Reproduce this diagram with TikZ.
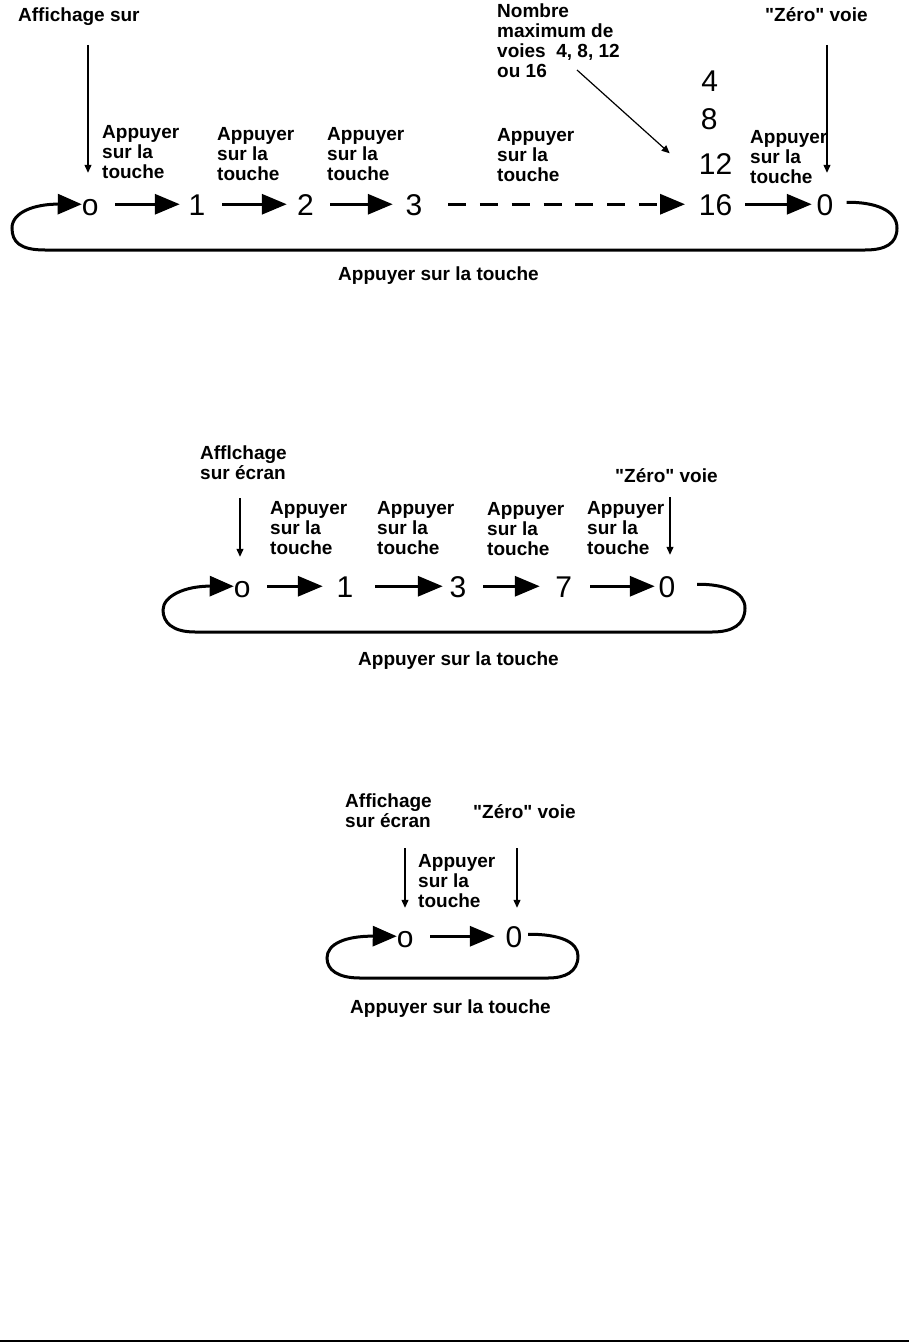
\documentclass[tikz,border=0pt]{standalone}
\usepackage{fontspec}
\setmainfont{Liberation Sans}
\usetikzlibrary{arrows.meta}
\newcommand\lblfont{\fontsize{19}{20}\selectfont\bfseries}
\newcommand\numfont{\fontsize{30}{30}\selectfont}
\newcommand\zerovoie{\textquotedbl Zéro\textquotedbl{} voie}
\begin{document}
\begin{tikzpicture}[x=1pt,y=-1pt,
  lbl/.style={font=\lblfont, inner sep=0pt, align=left},
  num/.style={font=\numfont, inner sep=0pt, text height=21.5pt, text depth=0pt, anchor=base},
  bigarrow/.style={line width=3.3pt, -{Triangle[length=25pt,width=20pt]}},
  thinarrow/.style={line width=1.2pt, -{Triangle[length=8pt,width=7pt]}},
  loopline/.style={line width=3pt, -{Triangle[length=24pt,width=20pt]}}]
\useasboundingbox (0,0) rectangle (909,1343);

% ---------------- Diagram 1 ----------------
\node[lbl,anchor=base west] (aff1) at (18,22) {Affichage sur};
\node[lbl,anchor=north west] (nmax) at (497,4) {Nombre\\maximum de\\voies~~4, 8, 12\\ou 16};
\node[lbl,anchor=base west] (zer1) at (765,22) {\zerovoie};

\node[num] (a0) at (90.3,215) {o};
\node[num] (a1) at (197,215) {1};
\node[num] (a2) at (305.4,215) {2};
\node[num] (a3) at (414,215) {3};
\node[num,anchor=base west] (a4) at (701.2,92) {4};
\node[num,anchor=base west] (a8) at (700.7,130) {8};
\node[num,anchor=base west] (a12) at (698.7,175) {12};
\node[num,anchor=base west] (a16) at (698.7,215) {16};
\node[num] (az) at (825,215) {0};

\node[lbl,anchor=north west] (p11) at (102,125) {Appuyer\\sur la\\touche};
\node[lbl,anchor=north west] (p12) at (217,127) {Appuyer\\sur la\\touche};
\node[lbl,anchor=north west] (p13) at (327,127) {Appuyer\\sur la\\touche};
\node[lbl,anchor=north west] (p14) at (497,128) {Appuyer\\sur la\\touche};
\node[lbl,anchor=north west] (p15) at (750,130) {Appuyer\\sur la\\touche};
\node[lbl,anchor=base west] (bt1) at (338,280) {Appuyer sur la touche};

\draw[bigarrow,shorten <=16.3pt,shorten >=8.7pt] (a0.east) -- (a1.west);
\draw[bigarrow,shorten <=16.6pt,shorten >=10.1pt] (a1.east) -- (a2.west);
\draw[bigarrow,shorten <=16.2pt,shorten >=12.7pt] (a2.east) -- (a3.west);
\draw[bigarrow,dash pattern=on 18pt off 13.8pt,shorten <=25.6pt,shorten >=13.7pt] (a3.east) -- (a16.west);
\draw[bigarrow,shorten <=13pt,shorten >=4.7pt] (a16.east) -- (az.west);

\coordinate (r1) at ([xshift=13pt,yshift=2pt]az.east);
\draw[loopline] (r1) .. controls (875,202) and (897,210) .. (897,228)
  .. controls (897,244) and (885,250) .. (865,250) -- (45,250)
  .. controls (20,250) and (12,242) .. (12,228)
  .. controls (12,212) and (35,204) .. (a0.west);

\coordinate (v1) at (88,45);
\draw[thinarrow,shorten >=20.5pt] (v1) -- (v1 |- a0.north);
\coordinate (v2) at (827,45);
\draw[thinarrow,shorten >=20.5pt] (v2) -- (v2 |- az.north);
\coordinate (v3) at (577,70);
\draw[thinarrow] (v3) -- ([xshift=-29pt]a12.north west);

% ---------------- Diagram 2 ----------------
\node[lbl,anchor=north west] (aff2) at (200,446) {Afflchage\\sur écran};
\node[lbl,anchor=base west] (zer2) at (615,482) {\zerovoie};

\node[num] (b0) at (242.3,597) {o};
\node[num] (b1) at (345,597) {1};
\node[num] (b3) at (458,597) {3};
\node[num] (b7) at (563.8,597) {7};
\node[num] (bz) at (667,597) {0};

\node[lbl,anchor=north west] (p21) at (270,501) {Appuyer\\sur la\\touche};
\node[lbl,anchor=north west] (p22) at (377,501) {Appuyer\\sur la\\touche};
\node[lbl,anchor=north west] (p23) at (487,502) {Appuyer\\sur la\\touche};
\node[lbl,anchor=north west] (p24) at (587,501) {Appuyer\\sur la\\touche};
\node[lbl,anchor=base west] (bt2) at (358,665) {Appuyer sur la touche};

\draw[bigarrow,shorten <=16.4pt,shorten >=13.7pt] (b0.east) -- (b1.west);
\draw[bigarrow,shorten <=21.6pt,shorten >=6.7pt] (b1.east) -- (b3.west);
\draw[bigarrow,shorten <=16.6pt,shorten >=15.5pt] (b3.east) -- (b7.west);
\draw[bigarrow,shorten <=17.8pt,shorten >=3.7pt] (b7.east) -- (bz.west);

\coordinate (r2) at ([xshift=21.6pt,yshift=2pt]bz.east);
\draw[loopline] (r2) .. controls (725,584) and (745,592) .. (745,608)
  .. controls (745,625) and (732,632) .. (712,632) -- (195,632)
  .. controls (172,632) and (163,622) .. (163,610)
  .. controls (163,596) and (185,586) .. (b0.west);

\coordinate (w1) at (240,498);
\draw[thinarrow,shorten >=18.5pt] (w1) -- (w1 |- b0.north);
\coordinate (w2) at (670,497);
\draw[thinarrow,shorten >=20.5pt] (w2) -- (w2 |- bz.north);

% ---------------- Diagram 3 ----------------
\node[lbl,anchor=north west] (aff3) at (345,794) {Affichage\\sur écran};
\node[lbl,anchor=base west] (zer3) at (473,818) {\zerovoie};

\node[num] (c0) at (405.3,947) {o};
\node[num] (cz) at (514,947) {0};

\node[lbl,anchor=north west] (p31) at (418,854) {Appuyer\\sur la\\touche};
\node[lbl,anchor=base west] (bt3) at (350,1013) {Appuyer sur la touche};

\draw[bigarrow,shorten <=16.4pt,shorten >=10.7pt] (c0.east) -- (cz.west);

\coordinate (r3) at ([xshift=5.6pt,yshift=2pt]cz.east);
\draw[loopline] (r3) .. controls (560,934) and (578,942) .. (578,956)
  .. controls (578,972) and (565,978) .. (548,978) -- (360,978)
  .. controls (338,978) and (327,970) .. (327,958)
  .. controls (327,944) and (345,936) .. (c0.west);

\coordinate (u1) at (405,848);
\draw[thinarrow,shorten >=17.5pt] (u1) -- (u1 |- c0.north);
\coordinate (u2) at (517,848);
\draw[thinarrow,shorten >=17.5pt] (u2) -- (u2 |- cz.north);

% bottom rule
\draw[line width=2.5pt] (0,1341) -- (909,1341);
\end{tikzpicture}
\end{document}
